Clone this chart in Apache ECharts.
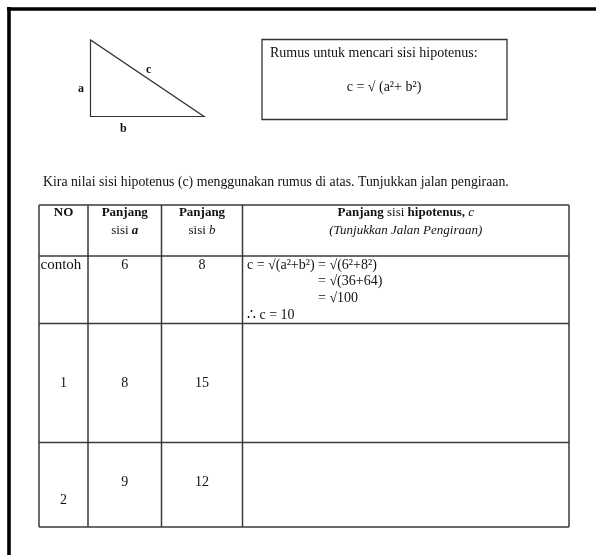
<!DOCTYPE html>
<html>
<head>
<meta charset="utf-8">
<script src="https://cdn.jsdelivr.net/npm/echarts@6/dist/echarts.min.js"></script>
<style>
  html, body { margin: 0; padding: 0; background: #fff; }
  #worksheet { width: 596px; height: 555px; }
</style>
</head>
<body>
<div id="worksheet"></div>
<script>
// data
var triangleLabels = ["a", "b", "c"];
var formulaTitle = "Rumus untuk mencari sisi hipotenus:";
var formula = "c = √ (a²+ b²)";
var instruction = "Kira nilai sisi hipotenus (c) menggunakan rumus di atas. Tunjukkan jalan pengiraan.";
var rowNo = ["contoh", "1", "2"];
var sideA = [6, 8, 9];
var sideB = [8, 15, 12];
var workLines = ["c = √(a²+b²) = √(6²+8²)", "= √(36+64)", "= √100", "∴ c = 10"];

// layout
var colX = [39, 88, 161.5, 242.5, 569];
var rowY = [205, 256, 323.5, 442.5, 527];
var workIndent = [247, 318, 318, 247];
var workY = [265, 281.5, 298.3, 315.5];
var serif = "'Liberation Serif', 'Times New Roman', serif";
var ink = "#111";
var lineCol = "#3a3a3a";

function txt(x, y, text, opt) {
  opt = opt || {};
  return {
    type: "text",
    x: x,
    y: y,
    style: {
      text: text,
      fontFamily: serif,
      fontSize: opt.size || 14,
      fontWeight: opt.bold ? "bold" : "normal",
      fontStyle: opt.italic ? "italic" : "normal",
      fill: ink,
      align: opt.align || "left",
      verticalAlign: "middle",
      rich: opt.rich
    }
  };
}

function seg(x1, y1, x2, y2, w, c) {
  return {
    type: "line",
    shape: { x1: x1, y1: y1, x2: x2, y2: y2 },
    style: { stroke: c || lineCol, lineWidth: w || 1.5 }
  };
}

var els = [];

// page frame
els.push(seg(7, 9, 600, 9, 3.6, "#000"));
els.push(seg(9, 7, 9, 560, 3.6, "#000"));

// triangle
els.push({
  type: "polygon",
  shape: { points: [[90.5, 40], [90.5, 116.5], [204, 116.5]] },
  style: { fill: "none", stroke: "#333", lineWidth: 1.2 }
});
els.push(txt(78, 89, triangleLabels[0], { bold: true, size: 12 }));
els.push(txt(120, 129, triangleLabels[1], { bold: true, size: 12 }));
els.push(txt(146, 70, triangleLabels[2], { bold: true, size: 12 }));

// formula box
els.push({
  type: "rect",
  shape: { x: 262, y: 39.5, width: 245, height: 80 },
  style: { fill: "none", stroke: "#333", lineWidth: 1.3 }
});
els.push(txt(270, 53, formulaTitle));
els.push(txt(384, 87, formula, { align: "center" }));

// instruction
els.push(txt(43, 182, instruction, { size: 13.8 }));

// table grid
for (var i = 0; i < colX.length; i++) {
  els.push(seg(colX[i], rowY[0], colX[i], rowY[rowY.length - 1]));
}
for (var j = 0; j < rowY.length; j++) {
  els.push(seg(colX[0], rowY[j], colX[colX.length - 1], rowY[j]));
}

function mid(k) { return (colX[k] + colX[k + 1]) / 2; }

// header
var hy1 = 212.5, hy2 = 231;
var hs = 13;
els.push(txt(mid(0), hy1, "NO", { bold: true, align: "center", size: hs }));
els.push(txt(mid(1), hy1, "Panjang", { bold: true, align: "center", size: hs }));
els.push(txt(mid(1), hy2, "sisi {i|a}", {
  align: "center", size: hs,
  rich: { i: { fontStyle: "italic", fontWeight: "bold", fontFamily: serif, fontSize: hs, fill: ink } }
}));
els.push(txt(mid(2), hy1, "Panjang", { bold: true, align: "center", size: hs }));
els.push(txt(mid(2), hy2, "sisi {i|b}", {
  align: "center", size: hs,
  rich: { i: { fontStyle: "italic", fontFamily: serif, fontSize: hs, fill: ink } }
}));
els.push(txt(mid(3), hy1, "{b|Panjang} sisi {b|hipotenus,} {i|c}", {
  align: "center", size: hs,
  rich: {
    b: { fontWeight: "bold", fontFamily: serif, fontSize: hs, fill: ink },
    i: { fontStyle: "italic", fontFamily: serif, fontSize: hs, fill: ink }
  }
}));
els.push(txt(mid(3), hy2, "(Tunjukkan Jalan Pengiraan)", { italic: true, align: "center", size: hs }));

// body rows
var rowTextY = [265, 383.3, 482.5];
var noTextY = [265, 383.3, 500];
for (var r = 0; r < rowNo.length; r++) {
  if (r === 0) {
    els.push(txt(40.5, noTextY[r], rowNo[r], { size: 15 }));
  } else {
    els.push(txt(mid(0), noTextY[r], rowNo[r], { align: "center" }));
  }
  els.push(txt(mid(1), rowTextY[r], String(sideA[r]), { align: "center" }));
  els.push(txt(mid(2), rowTextY[r], String(sideB[r]), { align: "center" }));
}

// worked example
for (var w = 0; w < workLines.length; w++) {
  els.push(txt(workIndent[w], workY[w], workLines[w]));
}

var chart = echarts.init(document.getElementById("worksheet"), null, { renderer: "canvas" });
chart.setOption({
  animation: false,
  backgroundColor: "#fff",
  graphic: { elements: els }
});
</script>
</body>
</html>
